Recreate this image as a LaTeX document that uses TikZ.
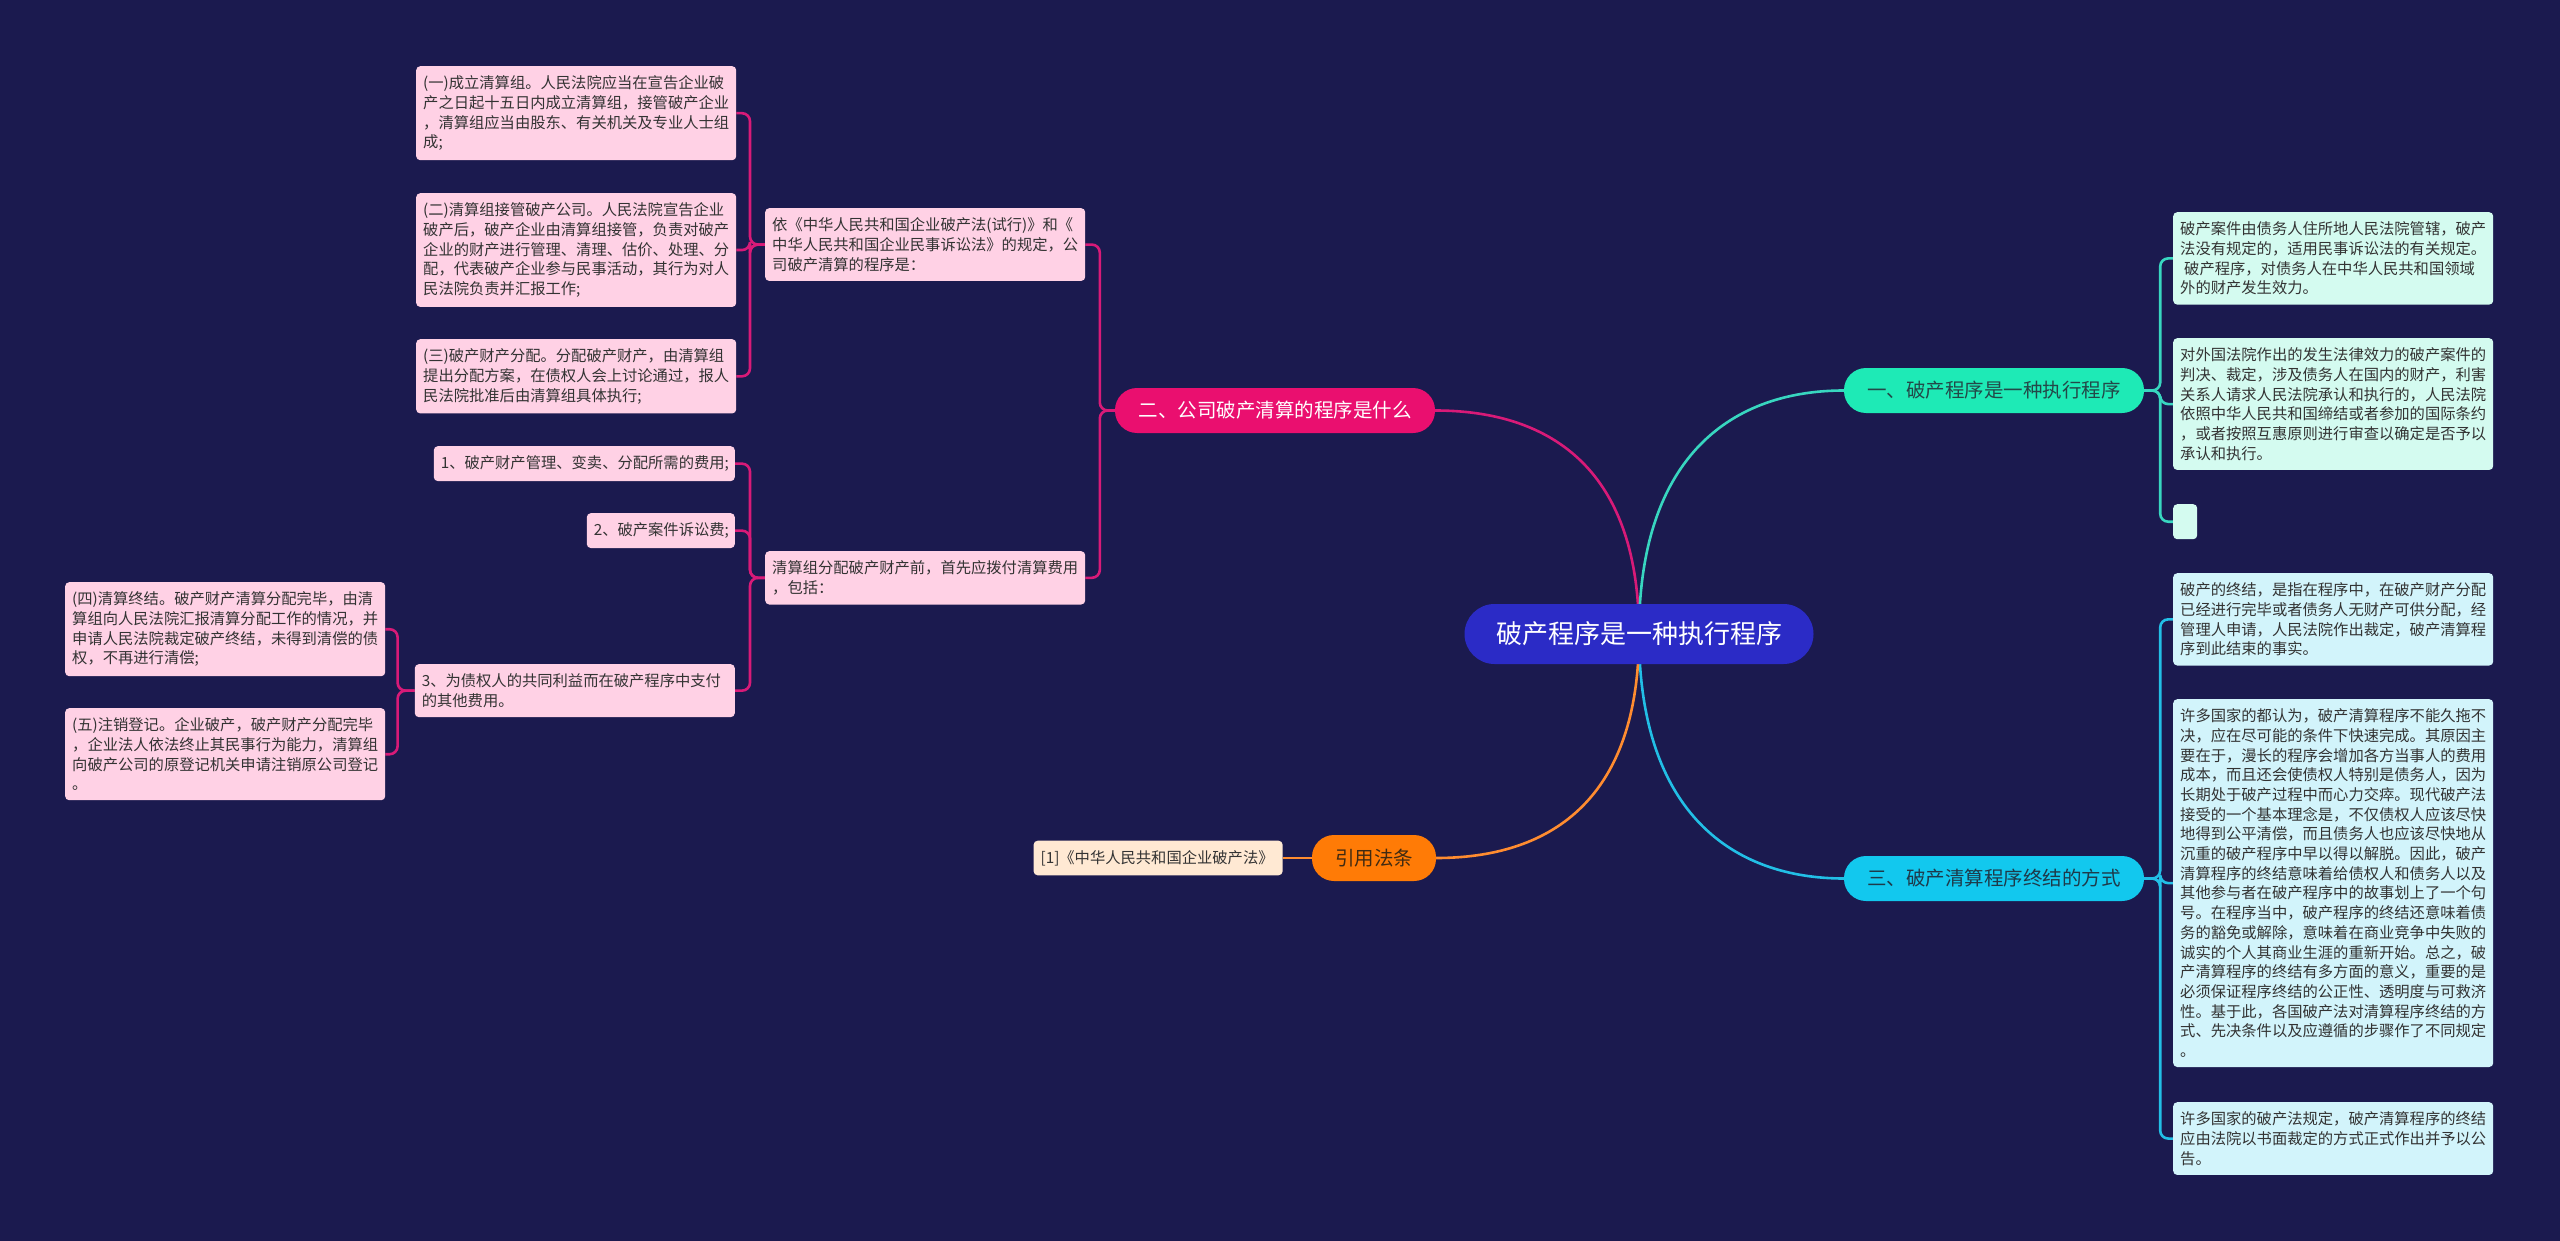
\documentclass[tikz,border=0pt]{standalone}
\usepackage{fontspec}
\setmainfont{Noto Sans CJK SC}
\usetikzlibrary{positioning,backgrounds}
\definecolor{navy}{HTML}{1B1A4F}
\definecolor{rootblue}{HTML}{2B2BC6}
\definecolor{rosemain}{HTML}{EA0F6F}
\definecolor{rosewire}{HTML}{D81A78}
\definecolor{tealmain}{HTML}{1EEAB6}
\definecolor{tealwire}{HTML}{38D6C0}
\definecolor{cyanmain}{HTML}{12C8EE}
\definecolor{cyanwire}{HTML}{22BFE6}
\definecolor{orangemain}{HTML}{FF7B06}
\definecolor{orangewire}{HTML}{FF8C30}
\definecolor{pinkfill}{HTML}{FFD1E5}
\definecolor{mintfill}{HTML}{D4FBF0}
\definecolor{icefill}{HTML}{D2F4FB}
\definecolor{peachfill}{HTML}{FFE9D3}
\definecolor{inktext}{HTML}{333333}
\definecolor{tealink}{HTML}{234848}
\definecolor{cyanink}{HTML}{1E3A4A}
\definecolor{orangeink}{HTML}{3F2A12}
\newcommand{\leaffont}{\fontsize{15.3pt}{19.7pt}\selectfont}
\newcommand{\topicfont}{\fontsize{19.5pt}{23pt}\selectfont}
\newcommand{\rootfont}{\fontsize{26pt}{30pt}\selectfont}

\begin{document}
\begin{tikzpicture}[x=1pt, y=1pt,
    leaf/.style={rectangle, rounded corners=4pt, inner xsep=7pt, inner ysep=9.5pt, align=left, font=\leaffont, text=inktext},
    pinkleaf/.style={leaf, fill=pinkfill, text width=306pt},
    mintleaf/.style={leaf, fill=mintfill, text width=306pt},
    iceleaf/.style={leaf, fill=icefill, text width=306pt},
    peachleaf/.style={leaf, fill=peachfill, text width=235pt},
    topic/.style={rectangle, rounded corners=22pt, minimum height=45pt, inner sep=0pt, font=\topicfont},
    rootnode/.style={rectangle, rounded corners=30pt, fill=rootblue, text=white, minimum width=349pt, minimum height=60pt, inner sep=0pt, font=\rootfont},
    wire/.style={line width=2.6pt, rounded corners=8pt},
    rosewire/.style={wire, draw=rosewire},
    tealwire/.style={wire, draw=tealwire},
    cyanwire/.style={wire, draw=cyanwire},
    orangewire/.style={wire, draw=orangewire}
]
\useasboundingbox (0,0) rectangle (2560,-1241);

% centre and main branches
\node[rootnode] (root) at (1639,-634) {破产程序是一种执行程序};
\node[topic, fill=tealmain, text=tealink, minimum width=300pt] (one) at (1994,-390.5) {一、破产程序是一种执行程序};
\node[topic, fill=rosemain, text=white, minimum width=320pt] (two) at (1275,-410.5) {二、公司破产清算的程序是什么};
\node[topic, fill=cyanmain, text=cyanink, minimum width=300pt] (three) at (1994,-878.5) {三、破产清算程序终结的方式};
\node[topic, fill=orangemain, text=orangeink, minimum width=124pt, minimum height=46pt] (cite) at (1374,-858) {引用法条};
\node[peachleaf, left=29pt of cite] (ref) {[1]《中华人民共和国企业破产法》};

% branch one
\node[mintleaf, anchor=north west] (a1) at (2173,-212) {破产案件由债务人住所地人民法院管辖，破产\\法没有规定的，适用民事诉讼法的有关规定。\\\hspace*{4pt}破产程序，对债务人在中华人民共和国领域\\外的财产发生效力。};
\node[mintleaf, anchor=north west] (a2) at (2173,-338) {对外国法院作出的发生法律效力的破产案件的\\判决、裁定，涉及债务人在国内的财产，利害\\关系人请求人民法院承认和执行的，人民法院\\依照中华人民共和国缔结或者参加的国际条约\\，或者按照互惠原则进行审查以确定是否予以\\承认和执行。};
\node[rectangle, rounded corners=4pt, fill=mintfill, minimum width=24pt, minimum height=35pt, inner sep=0pt, anchor=north west] (a3) at (2173,-504) {};

% branch three
\node[iceleaf, anchor=north west] (c1) at (2173,-573) {破产的终结，是指在程序中，在破产财产分配\\已经进行完毕或者债务人无财产可供分配，经\\管理人申请，人民法院作出裁定，破产清算程\\序到此结束的事实。};
\node[iceleaf, anchor=north west] (c2) at (2173,-699) {许多国家的都认为，破产清算程序不能久拖不\\决，应在尽可能的条件下快速完成。其原因主\\要在于，漫长的程序会增加各方当事人的费用\\成本，而且还会使债权人特别是债务人，因为\\长期处于破产过程中而心力交瘁。现代破产法\\接受的一个基本理念是，不仅债权人应该尽快\\地得到公平清偿，而且债务人也应该尽快地从\\沉重的破产程序中早以得以解脱。因此，破产\\清算程序的终结意味着给债权人和债务人以及\\其他参与者在破产程序中的故事划上了一个句\\号。在程序当中，破产程序的终结还意味着债\\务的豁免或解除，意味着在商业竞争中失败的\\诚实的个人其商业生涯的重新开始。总之，破\\产清算程序的终结有多方面的意义，重要的是\\必须保证程序终结的公正性、透明度与可救济\\性。基于此，各国破产法对清算程序终结的方\\式、先决条件以及应遵循的步骤作了不同规定\\。};
\node[iceleaf, anchor=north west] (c3) at (2173,-1102) {许多国家的破产法规定，破产清算程序的终结\\应由法院以书面裁定的方式正式作出并予以公\\告。};

% branch two
\node[pinkleaf, anchor=north west] (b1) at (765,-208) {依《中华人民共和国企业破产法(试行)》和《\\中华人民共和国企业民事诉讼法》的规定，公\\司破产清算的程序是：};
\node[pinkleaf, anchor=north west] (b2) at (765,-551) {清算组分配破产财产前，首先应拨付清算费用\\，包括：};
\node[pinkleaf, anchor=north west] (L1) at (416,-66) {(一)成立清算组。人民法院应当在宣告企业破\\产之日起十五日内成立清算组，接管破产企业\\，清算组应当由股东、有关机关及专业人士组\\成;};
\node[pinkleaf, anchor=north west] (L2) at (416,-193) {(二)清算组接管破产公司。人民法院宣告企业\\破产后，破产企业由清算组接管，负责对破产\\企业的财产进行管理、清理、估价、处理、分\\配，代表破产企业参与民事活动，其行为对人\\民法院负责并汇报工作;};
\node[pinkleaf, anchor=north west] (L3) at (416,-339) {(三)破产财产分配。分配破产财产，由清算组\\提出分配方案，在债权人会上讨论通过，报人\\民法院批准后由清算组具体执行;};
\node[pinkleaf, text width=287pt, anchor=north east] (p1) at (735,-446) {1、破产财产管理、变卖、分配所需的费用;};
\node[pinkleaf, text width=134pt, anchor=north east] (p2) at (735,-513) {2、破产案件诉讼费;};
\node[pinkleaf, anchor=north east] (p3) at (735,-664) {3、为债权人的共同利益而在破产程序中支付\\的其他费用。};
\node[pinkleaf, anchor=north west] (p4) at (65,-582) {(四)清算终结。破产财产清算分配完毕，由清\\算组向人民法院汇报清算分配工作的情况，并\\申请人民法院裁定破产终结，未得到清偿的债\\权，不再进行清偿;};
\node[pinkleaf, anchor=north west] (p5) at (65,-708) {(五)注销登记。企业破产，破产财产分配完毕\\，企业法人依法终止其民事行为能力，清算组\\向破产公司的原登记机关申请注销原公司登记\\。};

\begin{scope}[on background layer]
\fill[navy] (0,0) rectangle (2560,-1241);
% curves from the centre
\draw[rosewire] (root.center) .. controls +(0,170) and +(110,0) .. (two.east);
\draw[tealwire] (root.center) .. controls +(0,180) and +(-110,0) .. (one.west);
\draw[cyanwire] (root.center) .. controls +(0,-180) and +(-110,0) .. (three.west);
\draw[orangewire] (root.center) .. controls +(0,-170) and +(110,0) .. (cite.east);
\draw[orangewire] (cite) -- (ref);
% elbows to the leaves
\foreach \c in {a1,a2,a3} \draw[tealwire] (one.east) -- ++(16,0) |- (\c.west);
\foreach \c in {c1,c2,c3} \draw[cyanwire] (three.east) -- ++(16,0) |- (\c.west);
\foreach \c in {b1,b2} \draw[rosewire] (two.west) -- ++(-15,0) |- (\c.east);
\foreach \c in {L1,L2,L3} \draw[rosewire] (b1.west) -- ++(-15,0) |- (\c.east);
\foreach \c in {p1,p2,p3} \draw[rosewire] (b2.west) -- ++(-15,0) |- (\c.east);
\foreach \c in {p4,p5} \draw[rosewire] (p3.west) -- ++(-17,0) |- (\c.east);
\end{scope}
\end{tikzpicture}
\end{document}
